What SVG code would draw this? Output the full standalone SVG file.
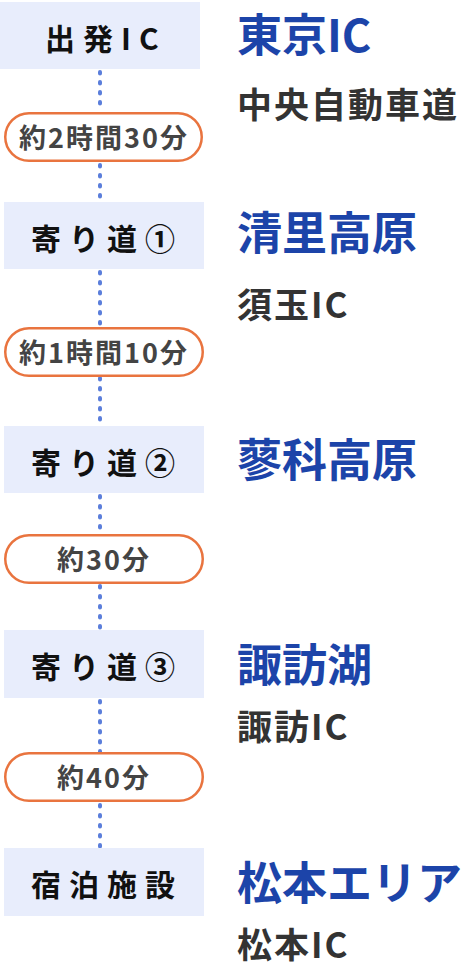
<svg xmlns="http://www.w3.org/2000/svg" width="466" height="970" viewBox="0 0 466 970">
<style>
.box{fill:#E8EDFC}
.lbl{font-family:"Noto Sans CJK JP","Noto Sans",sans-serif;font-weight:700;font-size:30px;fill:#111;letter-spacing:8px}
.pill{fill:#fff;stroke:#E9743F;stroke-width:2.5}
.ptx{font-family:"Noto Sans CJK JP","Noto Sans",sans-serif;font-weight:700;font-size:27px;fill:#444;letter-spacing:2px;text-anchor:middle}
.ttl{font-family:"Noto Sans CJK JP","Noto Sans",sans-serif;font-weight:700;font-size:45px;fill:#1C44A9}
.sub{font-family:"Noto Sans CJK JP","Noto Sans",sans-serif;font-weight:700;font-size:35px;fill:#333;letter-spacing:2px}
.dot{stroke:#5B7EDB;stroke-width:4;stroke-linecap:round;stroke-dasharray:1.5 8.5;fill:none}
</style>
<g id="connectors">
<line class="dot" x1="100" y1="72" x2="100" y2="112"/>
<line class="dot" x1="100" y1="165" x2="100" y2="202"/>
<line class="dot" x1="100" y1="272" x2="100" y2="327"/>
<line class="dot" x1="100" y1="378" x2="100" y2="426"/>
<line class="dot" x1="100" y1="496" x2="100" y2="534"/>
<line class="dot" x1="100" y1="586" x2="100" y2="630"/>
<line class="dot" x1="100" y1="701" x2="100" y2="752"/>
<line class="dot" x1="100" y1="805" x2="100" y2="848"/>
</g>
<g id="n1">
<rect class="box" x="0" y="2" width="200" height="67"/>
<text class="lbl" x="45" y="50">出発IC</text>
<text class="ttl" x="237" y="52">東京IC</text>
<text class="sub" x="237" y="118">中央自動車道</text>
</g>
<g id="t1">
<rect class="pill" x="5.25" y="113.25" width="196.5" height="47.5" rx="23.75"/>
<text class="ptx" x="104" y="148">約2時間30分</text>
</g>
<g id="n2">
<rect class="box" x="4" y="202" width="200" height="67"/>
<text class="lbl" x="31" y="250">寄り道①</text>
<text class="ttl" x="237" y="250">清里高原</text>
<text class="sub" x="237" y="318">須玉IC</text>
</g>
<g id="t2">
<rect class="pill" x="5.25" y="328.25" width="197.5" height="47.5" rx="23.75"/>
<text class="ptx" x="104" y="363">約1時間10分</text>
</g>
<g id="n3">
<rect class="box" x="4" y="426" width="200" height="67"/>
<text class="lbl" x="31" y="474">寄り道②</text>
<text class="ttl" x="237" y="477">蓼科高原</text>
</g>
<g id="t3">
<rect class="pill" x="5.25" y="535.25" width="197.5" height="47.5" rx="23.75"/>
<text class="ptx" x="104" y="570">約30分</text>
</g>
<g id="n4">
<rect class="box" x="4" y="630" width="200" height="68"/>
<text class="lbl" x="31" y="678">寄り道③</text>
<text class="ttl" x="237" y="682">諏訪湖</text>
<text class="sub" x="237" y="740">諏訪IC</text>
</g>
<g id="t4">
<rect class="pill" x="5.25" y="753.25" width="197.5" height="47.5" rx="23.75"/>
<text class="ptx" x="104" y="788">約40分</text>
</g>
<g id="n5">
<rect class="box" x="4" y="848" width="200" height="68"/>
<text class="lbl" x="31" y="896">宿泊施設</text>
<text class="ttl" x="237" y="900">松本エリア</text>
<text class="sub" x="237" y="958">松本IC</text>
</g>
</svg>
